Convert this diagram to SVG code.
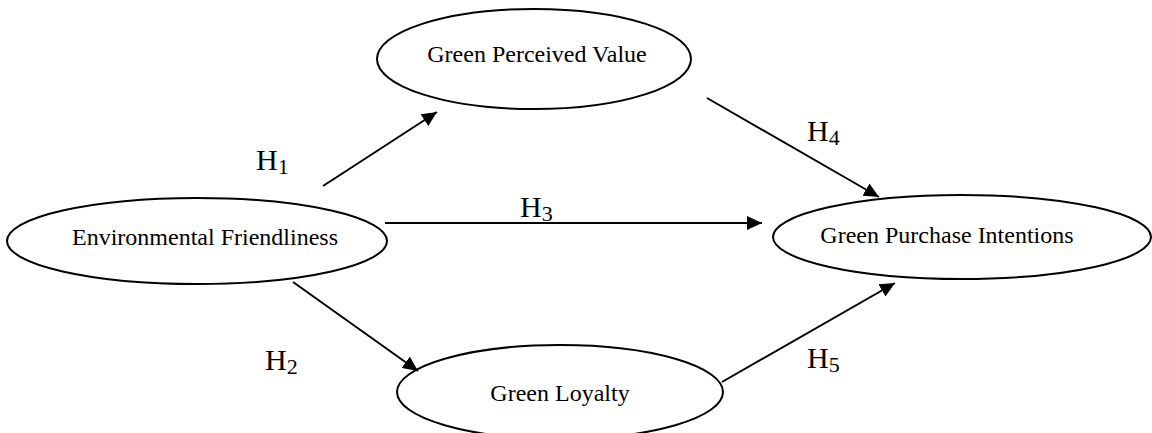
<svg xmlns="http://www.w3.org/2000/svg" width="1152" height="433" viewBox="0 0 1152 433">
<style>
.node ellipse{fill:#fff;stroke:#000;stroke-width:2}
.node text{font-family:"Liberation Serif","Times New Roman",serif;font-size:24px;text-anchor:middle;fill:#000}
.edge line{stroke:#000;stroke-width:2;marker-end:url(#ah)}
.lbl{font-family:"Liberation Serif","Times New Roman",serif;font-size:30px;fill:#000}
.sub{font-size:22px}
</style>
<defs>
<marker id="ah" markerUnits="userSpaceOnUse" markerWidth="16" markerHeight="14" refX="15" refY="7" orient="auto">
<path d="M0,0 L15,7 L0,14 z" fill="#000"/>
</marker>
</defs>
<rect width="1152" height="433" fill="#fff"/>
<g id="gpv" class="node"><ellipse cx="534" cy="59" rx="157" ry="50"/><text x="537" y="62">Green Perceived Value</text></g>
<g id="ef" class="node"><ellipse cx="197" cy="241" rx="190" ry="43"/><text x="205" y="245">Environmental Friendliness</text></g>
<g id="gpi" class="node"><ellipse cx="962" cy="237" rx="189" ry="42"/><text x="947" y="243">Green Purchase Intentions</text></g>
<g id="gl" class="node"><ellipse cx="560" cy="392" rx="163" ry="47"/><text x="560" y="401">Green Loyalty</text></g>
<g id="connectors" class="edge">
<line x1="323" y1="186" x2="437" y2="112"/>
<line x1="707" y1="98" x2="879" y2="197"/>
<line x1="385" y1="223" x2="762" y2="223"/>
<line x1="293" y1="282" x2="418" y2="371"/>
<line x1="722" y1="382" x2="895" y2="283"/>
</g>
<g id="labels">
<text class="lbl" x="256" y="170">H<tspan class="sub" dy="4">1</tspan></text>
<text class="lbl" x="807" y="141">H<tspan class="sub" dy="4">4</tspan></text>
<text class="lbl" x="520" y="217">H<tspan class="sub" dy="4">3</tspan></text>
<text class="lbl" x="265" y="370">H<tspan class="sub" dy="4">2</tspan></text>
<text class="lbl" x="807" y="368">H<tspan class="sub" dy="4">5</tspan></text>
</g>
</svg>
